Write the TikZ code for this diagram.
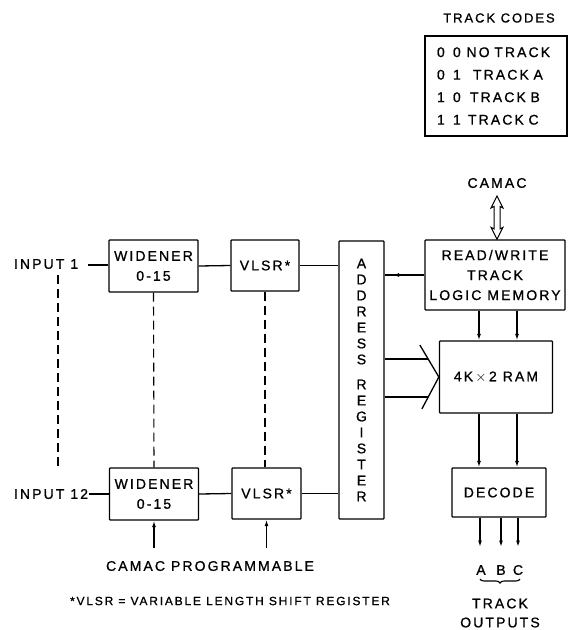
\documentclass[tikz,border=0pt]{standalone}
\usepackage{fontspec}
\setmainfont{Liberation Sans}[LetterSpace=15,FakeBold=0.9]
\usetikzlibrary{arrows.meta,decorations.markings,decorations.pathreplacing,calc}

\begin{document}
\begin{tikzpicture}[x=1pt,y=-1pt,
  line width=1.3pt,
  font=\fontsize{14}{20}\selectfont,
  blk/.style={draw, rounded corners=0.8pt, align=center, inner sep=0pt},
  tip/.style={-{Latex[length=6.5pt,width=4pt]}},
  dashv/.style={dash pattern=on 9pt off 5pt, line width=1.1pt},
  midtip/.style={postaction={decorate}, decoration={markings,
      mark=at position #1 with {\arrow{Latex[length=6.5pt,width=4pt]}}}},
]
\useasboundingbox (0,0) rectangle (568,630);

% ---- track code table ----
\newcommand\codecol[3]{\makebox[16pt][l]{#1}\makebox[#2][l]{#3}}
\node (tc) at (499,18) {\fontsize{13}{20}\selectfont TRACK CODES};
\node[draw, align=left, text width=118pt, inner xsep=12pt, minimum height=100pt,
      font=\fontsize{14}{22.5}\selectfont] (tcbox) at (496,86)
  {\codecol{0}{13.5pt}{0}NO TRACK\\
   \codecol{0}{20pt}{1}TRACK A\\
   \codecol{1}{17pt}{0}TRACK B\\
   \codecol{1}{15pt}{1}TRACK C};

% ---- input channels ----
\node[anchor=west] (in1) at (10,264) {INPUT 1};
\node[anchor=west] (in12) at (10,494) {INPUT 12};
\coordinate (i1) at (88,265);
\coordinate (i12) at (89,494);
\coordinate (d1) at (58,275);
\coordinate (d2) at (58,470);

\node[blk, minimum width=89pt, minimum height=52pt] (w1) at (153.5,266) {WIDENER\\0-15};
\node[blk, minimum width=89pt, minimum height=52pt] (w2) at (154,494) {WIDENER\\0-15};
\node[blk, minimum width=68pt, minimum height=51pt] (v1) at (265,265.5) {VLSR*};
\node[blk, minimum width=69pt, minimum height=51pt] (v2) at (266.5,493.5) {VLSR*};

\node[blk, minimum width=45pt, minimum height=278pt, font=\fontsize{14}{16}\selectfont]
  (addr) at (361.5,380)
  {A\\D\\D\\R\\E\\S\\S\\[9pt]R\\E\\G\\I\\S\\T\\E\\R};

\draw (i1) -- (i1 -| w1.west);
\draw (i12) -- (i12 -| w2.west);
\draw[dashv] (d1) -- (d2);
\draw[dashv] (w1.south) -- (w2.north);
\draw[dashv] (v1.south) -- (v1.south |- v2.north);
\draw (w1.east) -- (v1.west);
\draw (w2.east) -- (v2.west);
\draw (v1.east) -- (v1.east -| addr.west);
\draw (v2.east) -- (v2.east -| addr.west);

% ---- programming inputs ----
\node (cp) at (210,566) {CAMAC PROGRAMMABLE};
\coordinate (cw) at (154,548);
\coordinate (cv) at (266.5,548);
\draw[tip] (cw) -- (w2.south);
\draw[tip] (cv) -- (v2.south);

% ---- track memory ----
\node (camac) at (497,183) {CAMAC};
\node[blk, minimum width=140pt, minimum height=70pt] (rw) at (495,275)
  {READ/WRITE\\TRACK\\LOGIC MEMORY};
\node[blk, minimum width=113pt, minimum height=72pt] (ram) at (496,377) {4K\,$\times$\,2 RAM};
\node[blk, minimum width=94pt, minimum height=49pt] (dec) at (499,492.5) {DECODE};

% bidirectional CAMAC bus
\path (camac.south) ++(0,4) coordinate (ct);
\path (ct |- rw.north) coordinate (cb);
\draw[line width=1pt, line join=miter]
  (ct) -- ($(ct)+(-6,12)$) -- ($(ct)+(-3,10.5)$) -- ($(cb)+(-3,-10.5)$)
  -- ($(cb)+(-6,-12)$) -- (cb) -- ($(cb)+(6,-12)$) -- ($(cb)+(3,-10.5)$)
  -- ($(ct)+(3,10.5)$) -- ($(ct)+(6,12)$) -- cycle;

% memory to address register
\draw[midtip=0.8] (rw.west) -- (rw.west -| addr.east);

\coordinate (xa) at (479,0);
\coordinate (xb) at (517,0);
\draw[tip] (rw.south -| xa) -- (ram.north -| xa);
\draw[tip] (rw.south -| xb) -- (ram.north -| xb);
\draw[tip] (ram.south -| xa) -- (dec.north -| xa);
\draw[tip] (ram.south -| xb) -- (dec.north -| xb);

% address bus into the RAM
\coordinate (bt) at (ram.west);
\path (bt) ++(-10.7,-18) coordinate (bu);
\path (bt) ++(-10.6,20) coordinate (bl);
\draw[line join=miter] ($(bt)+(-19,-32)$) -- (bt) -- ($(bt)+(-17,32)$);
\draw (bu -| addr.east) -- (bu);
\draw (bl -| addr.east) -- (bl);

% ---- track outputs ----
\coordinate (oa) at (480,547);
\coordinate (ob) at (501,547);
\coordinate (oc) at (518,547);
\draw[tip] (oa |- dec.south) -- (oa);
\draw[tip] (ob |- dec.south) -- (ob);
\draw[tip] (oc |- dec.south) -- (oc);
\node (la) at (481,570) {A};
\node (lb) at (501,570) {B};
\node (lc) at (518,570) {C};
\draw[line width=1.1pt, decorate, decoration={brace, amplitude=4pt, mirror}]
  (480,579) -- (520,579);
\node[align=center, font=\fontsize{14}{19}\selectfont] (to) at (500,613) {TRACK\\OUTPUTS};

% ---- footnote ----
\node[font=\fontsize{12}{14}\selectfont] (fn) at (230,601)
  {*VLSR = VARIABLE LENGTH SHIFT REGISTER};
\end{tikzpicture}
\end{document}
